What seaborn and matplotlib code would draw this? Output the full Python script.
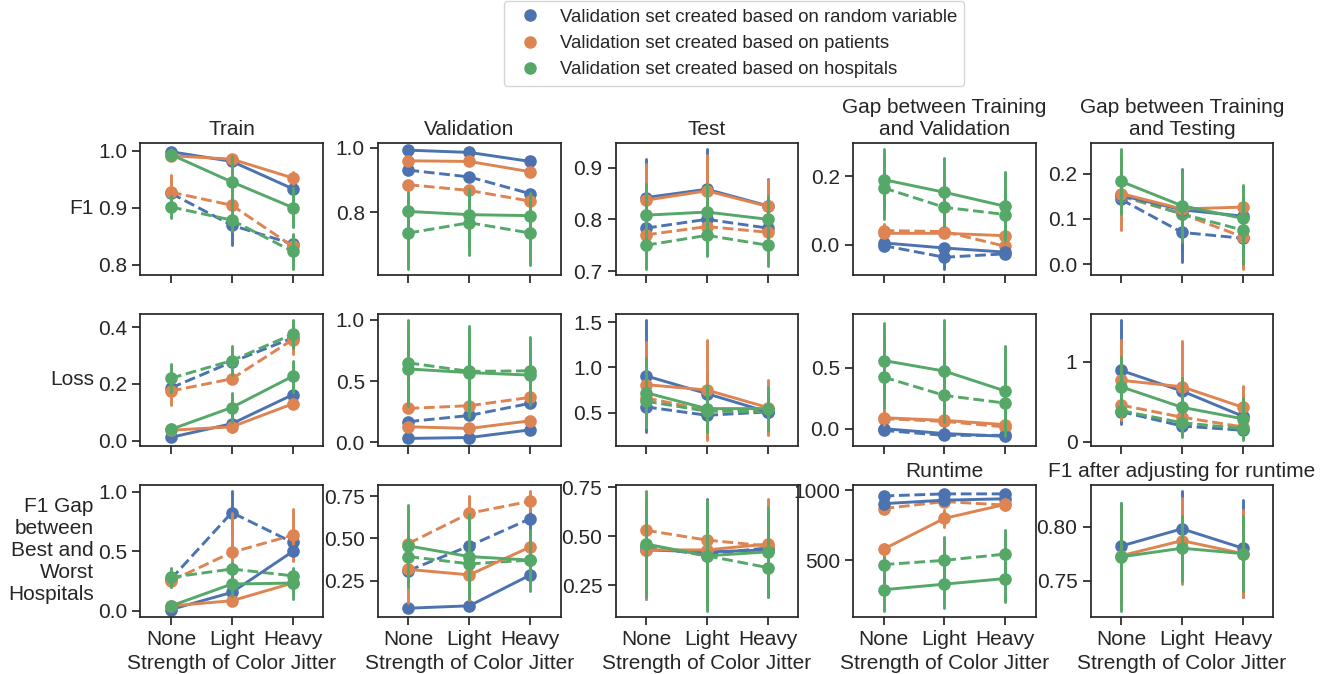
import pandas as pd
import seaborn as sns
import matplotlib.pyplot as plt
from matplotlib.lines import Line2D

# Niveis de jitter e grupos de validacao
jitter_levels = ["None", "Light", "Heavy"]
split_labels = ["Validation set created based on random variable",
                "Validation set created based on patients",
                "Validation set created based on hospitals"]

# Cada lista: [azul, laranja, verde] x [None, Light, Heavy]
# linha cheia = solid, tracejada = dashed, *_err = meia altura da barra de erro
train_f1_solid = [[0.998, 0.981, 0.933], [0.991, 0.985, 0.952], [0.993, 0.945, 0.900]]
train_f1_dashed = [[0.925, 0.869, 0.836], [0.927, 0.904, 0.832], [0.901, 0.878, 0.823]]
train_f1_solid_err = [[0.004, 0.008, 0.008], [0.006, 0.004, 0.010], [0.010, 0.045, 0.035]]
train_f1_dashed_err = [[0.008, 0.035, 0.010], [0.030, 0.015, 0.020], [0.020, 0.020, 0.030]]

val_f1_solid = [[0.993, 0.986, 0.958], [0.960, 0.958, 0.926], [0.803, 0.793, 0.790]]
val_f1_dashed = [[0.931, 0.910, 0.858], [0.886, 0.868, 0.835], [0.736, 0.768, 0.736]]
val_f1_solid_err = [[0.004, 0.004, 0.006], [0.005, 0.006, 0.006], [0.060, 0.080, 0.070]]
val_f1_dashed_err = [[0.006, 0.008, 0.008], [0.008, 0.008, 0.010], [0.110, 0.100, 0.100]]

test_f1_solid = [[0.842, 0.858, 0.826], [0.837, 0.855, 0.825], [0.808, 0.814, 0.800]]
test_f1_dashed = [[0.783, 0.800, 0.783], [0.770, 0.786, 0.775], [0.750, 0.769, 0.750]]
test_f1_solid_err = [[0.075, 0.078, 0.052], [0.070, 0.070, 0.050], [0.060, 0.055, 0.045]]
test_f1_dashed_err = [[0.010, 0.010, 0.010], [0.010, 0.010, 0.010], [0.045, 0.040, 0.040]]

gap_val_f1_solid = [[0.005, -0.010, -0.022], [0.033, 0.033, 0.026], [0.190, 0.153, 0.112]]
gap_val_f1_dashed = [[-0.003, -0.037, -0.027], [0.041, 0.038, -0.005], [0.166, 0.109, 0.088]]
gap_val_f1_solid_err = [[0.008, 0.010, 0.010], [0.010, 0.010, 0.010], [0.090, 0.100, 0.100]]
gap_val_f1_dashed_err = [[0.008, 0.033, 0.010], [0.020, 0.010, 0.025], [0.090, 0.080, 0.080]]

gap_test_f1_solid = [[0.152, 0.120, 0.106], [0.156, 0.122, 0.126], [0.183, 0.129, 0.101]]
gap_test_f1_dashed = [[0.143, 0.070, 0.057], [0.150, 0.111, 0.060], [0.152, 0.111, 0.075]]
gap_test_f1_solid_err = [[0.010, 0.090, 0.010], [0.080, 0.010, 0.010], [0.072, 0.080, 0.075]]
gap_test_f1_dashed_err = [[0.010, 0.065, 0.010], [0.010, 0.010, 0.070], [0.020, 0.020, 0.075]]

train_loss_solid = [[0.012, 0.060, 0.162], [0.037, 0.049, 0.130], [0.040, 0.117, 0.227]]
train_loss_dashed = [[0.186, 0.277, 0.362], [0.175, 0.218, 0.356], [0.220, 0.282, 0.375]]
train_loss_solid_err = [[0.008, 0.030, 0.010], [0.010, 0.010, 0.010], [0.020, 0.050, 0.055]]
train_loss_dashed_err = [[0.010, 0.010, 0.010], [0.050, 0.010, 0.050], [0.050, 0.050, 0.050]]

val_loss_solid = [[0.033, 0.040, 0.103], [0.128, 0.114, 0.177], [0.600, 0.570, 0.550]]
val_loss_dashed = [[0.170, 0.220, 0.320], [0.278, 0.300, 0.368], [0.650, 0.580, 0.585]]
val_loss_solid_err = [[0.010, 0.010, 0.010], [0.010, 0.010, 0.010], [0.250, 0.280, 0.230]]
val_loss_dashed_err = [[0.010, 0.010, 0.010], [0.010, 0.010, 0.010], [0.350, 0.370, 0.280]]

test_loss_solid = [[0.907, 0.710, 0.507], [0.810, 0.750, 0.556], [0.720, 0.544, 0.544]]
test_loss_dashed = [[0.563, 0.470, 0.507], [0.663, 0.526, 0.530], [0.626, 0.515, 0.510]]
test_loss_solid_err = [[0.620, 0.250, 0.250], [0.470, 0.550, 0.300], [0.380, 0.260, 0.240]]
test_loss_dashed_err = [[0.050, 0.050, 0.030], [0.050, 0.050, 0.030], [0.050, 0.050, 0.030]]

gap_val_loss_solid = [[0.000, -0.040, -0.063], [0.090, 0.068, 0.033], [0.560, 0.473, 0.309]]
gap_val_loss_dashed = [[-0.014, -0.055, -0.055], [0.082, 0.060, 0.014], [0.424, 0.273, 0.210]]
gap_val_loss_solid_err = [[0.020, 0.020, 0.020], [0.060, 0.020, 0.020], [0.310, 0.420, 0.370]]
gap_val_loss_dashed_err = [[0.020, 0.020, 0.020], [0.020, 0.020, 0.020], [0.330, 0.350, 0.300]]

gap_test_loss_solid = [[0.890, 0.633, 0.318], [0.767, 0.686, 0.430], [0.686, 0.430, 0.286]]
gap_test_loss_dashed = [[0.376, 0.196, 0.143], [0.457, 0.306, 0.184], [0.388, 0.237, 0.163]]
gap_test_loss_solid_err = [[0.630, 0.100, 0.050], [0.500, 0.570, 0.270], [0.370, 0.370, 0.260]]
gap_test_loss_dashed_err = [[0.150, 0.100, 0.080], [0.050, 0.050, 0.050], [0.050, 0.050, 0.050]]

hosp_train_solid = [[0.010, 0.154, 0.497], [0.040, 0.084, 0.232], [0.040, 0.224, 0.232]]
hosp_train_dashed = [[0.265, 0.824, 0.573], [0.250, 0.490, 0.634], [0.280, 0.350, 0.293]]
hosp_train_solid_err = [[0.010, 0.050, 0.020], [0.010, 0.020, 0.020], [0.020, 0.100, 0.130]]
hosp_train_dashed_err = [[0.010, 0.180, 0.020], [0.050, 0.330, 0.220], [0.080, 0.050, 0.050]]

hosp_val_solid = [[0.088, 0.102, 0.284], [0.317, 0.285, 0.450], [0.456, 0.393, 0.372]]
hosp_val_dashed = [[0.310, 0.456, 0.617], [0.470, 0.649, 0.720], [0.393, 0.350, 0.372]]
hosp_val_solid_err = [[0.015, 0.015, 0.020], [0.200, 0.150, 0.030], [0.240, 0.250, 0.180]]
hosp_val_dashed_err = [[0.015, 0.020, 0.080], [0.020, 0.100, 0.060], [0.080, 0.080, 0.080]]

hosp_test_solid = [[0.430, 0.420, 0.430], [0.430, 0.430, 0.460], [0.460, 0.400, 0.420]]
hosp_test_dashed = [[0.440, 0.410, 0.440], [0.530, 0.480, 0.450], [0.450, 0.400, 0.340]]
hosp_test_solid_err = [[0.250, 0.270, 0.200], [0.250, 0.250, 0.230], [0.270, 0.280, 0.230]]
hosp_test_dashed_err = [[0.050, 0.050, 0.050], [0.050, 0.050, 0.050], [0.050, 0.050, 0.150]]

runtime_solid = [[905, 930, 940], [580, 800, 900], [290, 330, 370]]
runtime_dashed = [[960, 975, 975], [870, 920, 895], [470, 500, 545]]
runtime_solid_err = [[20, 20, 20], [40, 60, 40], [150, 170, 170]]
runtime_dashed_err = [[20, 20, 20], [20, 20, 20], [150, 170, 170]]

f1_adj_solid = [[0.782, 0.798, 0.780], [0.773, 0.787, 0.775], [0.772, 0.780, 0.775]]
f1_adj_solid_err = [[0.040, 0.035, 0.045], [0.045, 0.040, 0.040], [0.050, 0.030, 0.035]]

sns.set_theme(style="ticks", palette="deep")
plt.rcParams["font.family"] = ["Liberation Sans", "DejaVu Sans"]
plt.rcParams["font.size"] = 15
plt.rcParams["axes.titlesize"] = 15
plt.rcParams["axes.labelsize"] = 15
plt.rcParams["xtick.labelsize"] = 15
plt.rcParams["ytick.labelsize"] = 15

colors = sns.color_palette("deep")[:3]


def desenha(ax, solid, solid_err, dashed=None, dashed_err=None):
    # cada ponto vira 3 valores (min, centro, max) -> mediana + intervalo 0-100
    for means, errs, ls in [(dashed, dashed_err, "--"), (solid, solid_err, "-")]:
        if means is None:
            continue
        rows = []
        for h in range(3):
            for i, lvl in enumerate(jitter_levels):
                m, e = means[h][i], errs[h][i]
                for v in (m - e, m, m + e):
                    rows.append({"jitter": lvl, "split": split_labels[h], "value": v})
        df = pd.DataFrame(rows)
        sns.pointplot(data=df, x="jitter", y="value", hue="split",
                      order=jitter_levels, hue_order=split_labels,
                      estimator="median", errorbar=("pi", 100),
                      linestyles=ls, palette=colors, ax=ax, legend=False,
                      linewidth=2.1, markersize=7.5)
    ax.set_xlabel("")
    ax.set_ylabel("")


fig, axes = plt.subplots(3, 5, figsize=(13.25, 6.74), dpi=100, sharex=True)

desenha(axes[0, 0], train_f1_solid, train_f1_solid_err, train_f1_dashed, train_f1_dashed_err)
desenha(axes[0, 1], val_f1_solid, val_f1_solid_err, val_f1_dashed, val_f1_dashed_err)
desenha(axes[0, 2], test_f1_solid, test_f1_solid_err, test_f1_dashed, test_f1_dashed_err)
desenha(axes[0, 3], gap_val_f1_solid, gap_val_f1_solid_err, gap_val_f1_dashed, gap_val_f1_dashed_err)
desenha(axes[0, 4], gap_test_f1_solid, gap_test_f1_solid_err, gap_test_f1_dashed, gap_test_f1_dashed_err)

desenha(axes[1, 0], train_loss_solid, train_loss_solid_err, train_loss_dashed, train_loss_dashed_err)
desenha(axes[1, 1], val_loss_solid, val_loss_solid_err, val_loss_dashed, val_loss_dashed_err)
desenha(axes[1, 2], test_loss_solid, test_loss_solid_err, test_loss_dashed, test_loss_dashed_err)
desenha(axes[1, 3], gap_val_loss_solid, gap_val_loss_solid_err, gap_val_loss_dashed, gap_val_loss_dashed_err)
desenha(axes[1, 4], gap_test_loss_solid, gap_test_loss_solid_err, gap_test_loss_dashed, gap_test_loss_dashed_err)

desenha(axes[2, 0], hosp_train_solid, hosp_train_solid_err, hosp_train_dashed, hosp_train_dashed_err)
desenha(axes[2, 1], hosp_val_solid, hosp_val_solid_err, hosp_val_dashed, hosp_val_dashed_err)
desenha(axes[2, 2], hosp_test_solid, hosp_test_solid_err, hosp_test_dashed, hosp_test_dashed_err)
desenha(axes[2, 3], runtime_solid, runtime_solid_err, runtime_dashed, runtime_dashed_err)
desenha(axes[2, 4], f1_adj_solid, f1_adj_solid_err)

# titulos
axes[0, 0].set_title("Train")
axes[0, 1].set_title("Validation")
axes[0, 2].set_title("Test")
axes[0, 3].set_title("Gap between Training\nand Validation")
axes[0, 4].set_title("Gap between Training\nand Testing")
axes[2, 3].set_title("Runtime")
axes[2, 4].set_title("F1 after adjusting for runtime")

# rotulos das linhas
axes[0, 0].set_ylabel("F1", rotation=0, ha="right", va="center", labelpad=3)
axes[1, 0].set_ylabel("Loss", rotation=0, ha="right", va="center", labelpad=3)
axes[2, 0].set_ylabel("F1 Gap\nbetween\nBest and\nWorst\nHospitals", rotation=0,
                      ha="right", va="center", multialignment="right", labelpad=3)

for ax in axes[2]:
    ax.set_xlabel("Strength of Color Jitter")

handles = [Line2D([], [], marker="o", linestyle="", color=c, markersize=8) for c in colors]
fig.legend(handles, split_labels, loc="upper center", bbox_to_anchor=(0.554, 1.012),
           fontsize=13.4, handletextpad=0.6)

plt.subplots_adjust(left=0.106, right=0.961, top=0.788, bottom=0.085, wspace=0.30, hspace=0.30)
plt.savefig("out.png", dpi=100)
